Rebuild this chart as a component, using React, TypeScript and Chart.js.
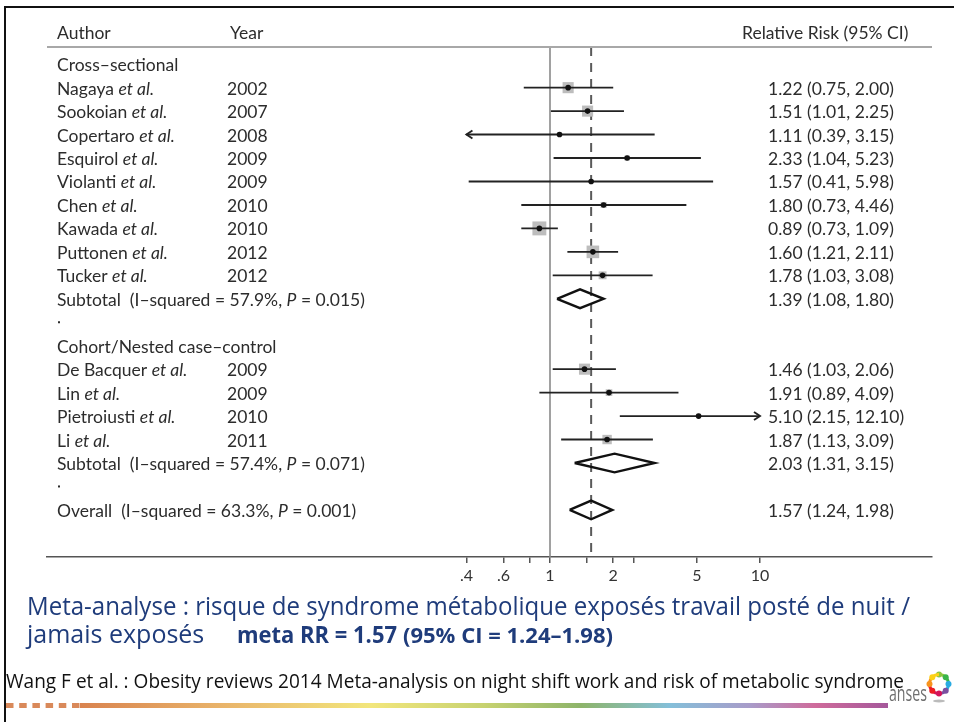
import { useEffect, useRef } from 'react';
import { Chart, registerables } from 'chart.js';

Chart.register(...registerables);

// Individual studies (relative risk with 95% CI)
const studyAuthors = ['Nagaya', 'Sookoian', 'Copertaro', 'Esquirol', 'Violanti', 'Chen', 'Kawada', 'Puttonen', 'Tucker', 'De Bacquer', 'Lin', 'Pietroiusti', 'Li'];
const studyYears = ['2002', '2007', '2008', '2009', '2009', '2010', '2010', '2012', '2012', '2009', '2009', '2010', '2011'];
const studyRR = [1.22, 1.51, 1.11, 2.33, 1.57, 1.8, 0.89, 1.6, 1.78, 1.46, 1.91, 5.1, 1.87];
const studyLow = [0.75, 1.01, 0.39, 1.04, 0.41, 0.73, 0.73, 1.21, 1.03, 1.03, 0.89, 2.15, 1.13];
const studyHigh = [2.0, 2.25, 3.15, 5.23, 5.98, 4.46, 1.09, 2.11, 3.08, 2.06, 4.09, 12.1, 3.09];
const studyWeights = [7.0, 7.0, 1.2, 1.5, 1.0, 2.0, 11.0, 9.0, 3.5, 7.0, 2.5, 1.3, 5.0];
const studyRows = [1, 2, 3, 4, 5, 6, 7, 8, 9, 13, 14, 15, 16];

// Pooled estimates
const pooledLabels = ['Subtotal', 'Subtotal', 'Overall'];
const pooledI2 = ['57.9%', '57.4%', '63.3%'];
const pooledP = ['0.015', '0.071', '0.001'];
const pooledRR = [1.39, 2.03, 1.57];
const pooledLow = [1.08, 1.31, 1.24];
const pooledHigh = [1.8, 3.15, 1.98];
const pooledRows = [10, 17, 19];

// Group headings and blank separator rows
const groupLabels = ['Cross–sectional', 'Cohort/Nested case–control'];
const groupRows = [0, 12];
const spacerRows = [11, 18];

// Log axis ticks
const axisTicks = [0.4, 0.6, 0.8, 1, 1.5, 2, 2.5, 5, 10];
const axisTickLabels = ['.4', '.6', '', '1', '', '2', '', '5', '10'];

const columnHeaders = ['Author', 'Year', 'Relative Risk (95% CI)'];
const captionLine1 = 'Meta-analyse : risque de syndrome métabolique exposés travail posté de nuit /';
const captionLine2 = 'jamais exposés';
const citation = 'Wang F et al. : Obesity reviews 2014 Meta-analysis on night shift work and risk of metabolic syndrome';

const Y_MIN = -0.733;
const Y_MAX = 21.007;
const X_MIN = 0.004025;
const X_MAX = 65.92;

const TEXT_FONT = 'Lato, "Open Sans", sans-serif';
const TEXT_COLOR = '#2c2c2c';

const fmt = (v: number) => v.toFixed(2);
const ciText = (rr: number, lo: number, hi: number) => `${fmt(rr)} (${fmt(lo)}, ${fmt(hi)})`;

function drawParts(ctx: CanvasRenderingContext2D, parts: [string, boolean][], x: number, y: number, size: number) {
  let cx = x;
  for (const [text, italic] of parts) {
    ctx.font = `${italic ? 'italic ' : ''}${size}px ${TEXT_FONT}`;
    ctx.fillText(text, cx, y);
    cx += ctx.measureText(text).width;
  }
}

const forestText = {
  id: 'forestText',
  afterDatasetsDraw(chart: any) {
    const { ctx, chartArea, scales } = chart;
    const xs = scales.x;
    const ys = scales.y;
    const left = chartArea.left;
    const authorX = left + 10;
    const yearX = left + 180;
    const valueX = left + 721;
    const size = 17.5;
    const base = 7;

    ctx.save();
    // header rule
    ctx.strokeStyle = '#a8a8a8';
    ctx.lineWidth = 2;
    ctx.beginPath();
    ctx.moveTo(chartArea.left, chartArea.top);
    ctx.lineTo(chartArea.right, chartArea.top);
    ctx.stroke();

    ctx.fillStyle = TEXT_COLOR;
    ctx.textBaseline = 'alphabetic';
    ctx.textAlign = 'left';
    ctx.font = `${size}px ${TEXT_FONT}`;
    ctx.fillText(columnHeaders[0], authorX, chartArea.top - 8);
    ctx.fillText(columnHeaders[1], yearX + 3, chartArea.top - 8);
    ctx.fillText(columnHeaders[2], valueX - 26, chartArea.top - 8);

    groupLabels.forEach((g, i) => {
      ctx.font = `${size}px ${TEXT_FONT}`;
      ctx.fillText(g, authorX, ys.getPixelForValue(groupRows[i]) + base);
    });

    studyAuthors.forEach((a, i) => {
      const py = ys.getPixelForValue(studyRows[i]) + base;
      drawParts(ctx, [[a + ' ', false], ['et al.', true]], authorX, py, size);
      ctx.font = `${size}px ${TEXT_FONT}`;
      ctx.fillText(studyYears[i], yearX, py);
      ctx.fillText(ciText(studyRR[i], studyLow[i], studyHigh[i]), valueX, py);
    });

    pooledLabels.forEach((l, i) => {
      const py = ys.getPixelForValue(pooledRows[i]) + base;
      drawParts(ctx, [[`${l}  (I–squared = ${pooledI2[i]}, `, false], ['P', true], [` = ${pooledP[i]})`, false]], authorX, py, size);
      ctx.font = `${size}px ${TEXT_FONT}`;
      ctx.fillText(ciText(pooledRR[i], pooledLow[i], pooledHigh[i]), valueX, py);
    });

    spacerRows.forEach((r) => {
      ctx.fillRect(authorX + 1, ys.getPixelForValue(r) - 1, 2, 2);
    });

    // arrows for intervals running past the axis
    const lo = axisTicks[0];
    const hi = axisTicks[axisTicks.length - 1];
    ctx.strokeStyle = '#222';
    ctx.lineWidth = 1.9;
    studyRows.forEach((r, i) => {
      const py = ys.getPixelForValue(r);
      if (studyLow[i] < lo) {
        const px = xs.getPixelForValue(lo);
        ctx.beginPath();
        ctx.moveTo(px + 6, py - 4);
        ctx.lineTo(px, py);
        ctx.lineTo(px + 6, py + 4);
        ctx.stroke();
      }
      if (studyHigh[i] > hi) {
        const px = xs.getPixelForValue(hi);
        ctx.beginPath();
        ctx.moveTo(px - 6, py - 4);
        ctx.lineTo(px, py);
        ctx.lineTo(px - 6, py + 4);
        ctx.stroke();
      }
    });
    ctx.restore();
  },
};

const slideFooter = {
  id: 'slideFooter',
  afterDraw(chart: any) {
    const ctx: CanvasRenderingContext2D = chart.ctx;
    ctx.save();
    ctx.textBaseline = 'alphabetic';
    ctx.textAlign = 'left';
    ctx.fillStyle = '#1f3c7b';
    ctx.font = '25px "Open Sans", sans-serif';
    ctx.fillText(captionLine1, 27, 615, 883);
    ctx.fillText(captionLine2, 27, 643, 178);
    ctx.font = 'bold 24px "Open Sans", sans-serif';
    ctx.fillText(`meta RR = ${fmt(pooledRR[2])}`, 237, 643, 160);
    ctx.font = 'bold 22px "Open Sans", sans-serif';
    ctx.fillText(`(95% CI = ${fmt(pooledLow[2])}–${fmt(pooledHigh[2])})`, 403, 643, 210);

    ctx.fillStyle = '#111';
    ctx.font = '20px "Open Sans", sans-serif';
    ctx.fillText(citation, 6, 688, 898);

    // coloured rule
    ctx.fillStyle = '#d9895a';
    for (let i = 0; i < 6; i++) ctx.fillRect(6 + i * 13.2, 703, 7.5, 5);
    const g = ctx.createLinearGradient(80, 0, 888, 0);
    g.addColorStop(0, '#d9834f');
    g.addColorStop(0.18, '#e9b56b');
    g.addColorStop(0.36, '#f2e67c');
    g.addColorStop(0.5, '#c7d270');
    g.addColorStop(0.62, '#8db46a');
    g.addColorStop(0.73, '#84bfd9');
    g.addColorStop(0.83, '#a99bc9');
    g.addColorStop(0.91, '#cf6b9b');
    g.addColorStop(1, '#a5589b');
    ctx.fillStyle = g;
    ctx.fillRect(80, 703, 808, 5);

    // logo
    ctx.fillStyle = '#6f6f6f';
    ctx.font = '21px "Open Sans", sans-serif';
    ctx.fillText('anses', 889, 701, 38);
    const cx = 939;
    const cy = 684;
    const R = 9.5;
    const cols = ['#8cc63f', '#39b54a', '#29abe2', '#7b4fa0', '#d4145a', '#ed1c24', '#f7931e', '#fcd116'];
    cols.forEach((c, i) => {
      const a0 = -Math.PI / 2 + (i * Math.PI) / 4;
      ctx.strokeStyle = c;
      ctx.lineWidth = 3;
      ctx.beginPath();
      ctx.arc(cx, cy, R, a0, a0 + Math.PI / 4);
      ctx.stroke();
      ctx.fillStyle = c;
      ctx.beginPath();
      ctx.arc(cx + R * Math.cos(a0), cy + R * Math.sin(a0), 3, 0, Math.PI * 2);
      ctx.fill();
    });
    ctx.fillStyle = 'rgba(120,120,120,0.5)';
    ctx.beginPath();
    ctx.ellipse(cx, cy + 17, 6, 1.5, 0, 0, Math.PI * 2);
    ctx.fill();
    ctx.restore();
  },
};

export default function App() {
  const canvasRef = useRef<HTMLCanvasElement | null>(null);

  useEffect(() => {
    const canvas = canvasRef.current;
    if (!canvas) return;

    const ciLo = (v: number) => Math.max(v, axisTicks[0]);
    const ciHi = (v: number) => Math.min(v, axisTicks[axisTicks.length - 1]);

    const datasets: any[] = [];

    // reference line at RR = 1
    datasets.push({
      type: 'line',
      data: [{ x: 1, y: Y_MIN }, { x: 1, y: Y_MAX }],
      borderColor: '#8a8a8a',
      borderWidth: 1.6,
      pointRadius: 0,
      order: 6,
    });
    // dashed line at the overall pooled estimate
    datasets.push({
      type: 'line',
      data: [{ x: pooledRR[2], y: Y_MIN }, { x: pooledRR[2], y: Y_MAX }],
      borderColor: '#5a5a5a',
      borderWidth: 2,
      borderDash: [9, 7],
      pointRadius: 0,
      order: 5,
    });
    // weight boxes
    datasets.push({
      type: 'scatter',
      data: studyRR.map((v, i) => ({ x: v, y: studyRows[i] })),
      pointStyle: 'rect',
      pointRadius: studyWeights.map((w) => (4.2 * Math.sqrt(w)) / Math.SQRT2),
      backgroundColor: '#bdbdbd',
      borderWidth: 0,
      order: 4,
    });
    // confidence intervals
    studyRR.forEach((_, i) => {
      datasets.push({
        type: 'line',
        data: [
          { x: ciLo(studyLow[i]), y: studyRows[i] },
          { x: ciHi(studyHigh[i]), y: studyRows[i] },
        ],
        borderColor: '#222',
        borderWidth: 1.9,
        pointRadius: 0,
        order: 3,
      });
    });
    // point estimates
    datasets.push({
      type: 'scatter',
      data: studyRR.map((v, i) => ({ x: v, y: studyRows[i] })),
      pointStyle: 'circle',
      pointRadius: 2.8,
      backgroundColor: '#111',
      borderWidth: 0,
      order: 2,
    });
    // pooled diamonds
    pooledRR.forEach((v, i) => {
      const r = pooledRows[i];
      datasets.push({
        type: 'line',
        data: [
          { x: pooledLow[i], y: r },
          { x: v, y: r - 0.4 },
          { x: pooledHigh[i], y: r },
          { x: v, y: r + 0.4 },
          { x: pooledLow[i], y: r },
        ],
        borderColor: '#111',
        borderWidth: 2.4,
        borderJoinStyle: 'miter',
        pointRadius: 0,
        fill: false,
        tension: 0,
        order: 1,
      });
    });

    const chart = new Chart(canvas, {
      type: 'line',
      data: { datasets },
      options: {
        responsive: false,
        maintainAspectRatio: false,
        animation: false,
        devicePixelRatio: 1,
        events: [],
        layout: { padding: { left: 47, right: 22, top: 47, bottom: 135 } },
        plugins: { legend: { display: false }, tooltip: { enabled: false } },
        scales: {
          x: {
            type: 'logarithmic',
            position: 'bottom',
            min: X_MIN,
            max: X_MAX,
            afterBuildTicks: (scale: any) => {
              scale.ticks = axisTicks.map((v) => ({ value: v }));
            },
            afterFit: (scale: any) => {
              scale.height = 30;
            },
            grid: { drawOnChartArea: false, drawTicks: true, tickLength: 6, color: '#555', lineWidth: 1.5 },
            border: { display: true, color: '#555', width: 1.5 },
            ticks: {
              autoSkip: false,
              maxRotation: 0,
              padding: 3,
              color: '#333',
              font: { family: 'Lato', size: 16 },
              callback: (value: any) => {
                const idx = axisTicks.indexOf(Number(value));
                return idx >= 0 ? axisTickLabels[idx] : '';
              },
            },
          },
          y: {
            type: 'linear',
            reverse: true,
            min: Y_MIN,
            max: Y_MAX,
            display: false,
          },
        },
      },
      plugins: [forestText, slideFooter],
    } as any);

    return () => chart.destroy();
  }, []);

  return (
    <div style={{ position: 'absolute', left: 0, top: 0, width: 954, height: 722, background: '#fff', overflow: 'hidden' }}>
      <canvas ref={canvasRef} width={954} height={722} style={{ display: 'block' }} />
      <div style={{ position: 'absolute', left: 4, top: 6, width: 950, height: 716, borderTop: '2px solid #111', borderLeft: '2px solid #111', boxSizing: 'border-box', pointerEvents: 'none' }} />
    </div>
  );
}
